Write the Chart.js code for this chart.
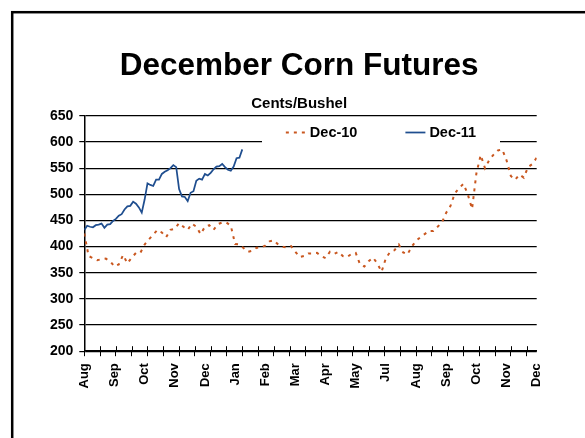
<!DOCTYPE html>
<html lang="en">
<head>
<meta charset="UTF-8">
<title>December Corn Futures</title>
<script src="https://cdn.jsdelivr.net/npm/chart.js"></script>
<style>
  html, body { margin: 0; padding: 0; background: #fff; }
  #wrap { width: 585px; height: 438px; }
</style>
</head>
<body>
<div id="wrap"><canvas id="cornChart" width="585" height="438"></canvas></div>
<script>
// x runs in trading days from early August; a month label every 21 days, a tick mark every 11
const monthLabels = ['Aug', 'Sep', 'Oct', 'Nov', 'Dec', 'Jan', 'Feb', 'Mar', 'Apr', 'May', 'Jul', 'Aug', 'Sep', 'Oct', 'Nov', 'Dec'];
const yTicks = [200, 250, 300, 350, 400, 450, 500, 550, 600, 650];
const lastDay = 315;
const labelEvery = 21;
const tickEvery = 11;

// Dec-10 contract, cents/bushel, every 3rd trading day
const dec10Step = 3;
const dec10 = [
  425, 382, 378, 374, 376, 377, 372, 362, 366, 384,
  368, 379, 388, 388, 404, 414, 423, 432, 427, 418,
  432, 434, 445, 438, 432, 444, 438, 424, 438, 441,
  432, 443, 446, 446, 440, 405, 404, 397, 390, 392,
  398, 398, 402, 410, 412, 404, 400, 398, 401, 390,
  380, 382, 387, 387, 388, 382, 378, 390, 386, 390,
  382, 380, 386, 388, 366, 362, 372, 379, 368, 352,
  378, 390, 393, 404, 389, 385, 400, 411, 418, 424,
  430, 430, 438, 446, 465, 478, 502, 512, 520, 500,
  472, 540, 575, 550, 566, 576, 584, 586, 565, 535,
  528, 538, 532, 552, 558, 570
];

// Dec-11 contract, cents/bushel, every 2nd trading day
const dec11Step = 2;
const dec11 = [
  432, 440, 438, 437, 441, 442, 444, 436, 442, 443,
  449, 453, 459, 462, 471, 477, 478, 486, 482, 475,
  465, 490, 521, 518, 516, 528, 528, 539, 543, 546,
  550, 556, 552, 510, 496, 495, 487, 503, 506, 526,
  530, 528, 539, 536, 541, 548, 553, 554, 558, 552,
  547, 545, 553, 569, 570, 586
];

const fontFamily = "'Liberation Sans', Arial, Helvetica, sans-serif";
Chart.defaults.font.family = fontFamily;
Chart.defaults.color = '#000';

// white page with the black frame
const framePlugin = {
  id: 'frame',
  beforeDraw(chart) {
    const ctx = chart.ctx;
    ctx.save();
    ctx.fillStyle = '#fff';
    ctx.fillRect(0, 0, chart.width, chart.height);
    ctx.strokeStyle = '#000';
    ctx.lineWidth = 2.5;
    ctx.strokeRect(12.2, 12.2, chart.width + 20, chart.height + 20);
    ctx.restore();
  }
};

// legend sitting inside the plot, on a white patch over the gridline
const insetLegend = {
  id: 'insetLegend',
  beforeDatasetsDraw(chart, args, opts) {
    const ctx = chart.ctx;
    ctx.save();
    ctx.fillStyle = '#fff';
    ctx.fillRect(opts.box[0], opts.box[1], opts.box[2], opts.box[3]);
    ctx.restore();
  },
  afterDatasetsDraw(chart, args, opts) {
    const ctx = chart.ctx;
    ctx.save();
    ctx.font = 'bold ' + opts.fontSize + 'px ' + fontFamily;
    ctx.textBaseline = 'middle';
    const items = chart.data.datasets.map(ds => ({
      ds: ds,
      w: opts.sample + opts.gap + ctx.measureText(ds.label).width
    }));
    const total = items.reduce((s, it) => s + it.w, 0) + opts.spacing * (items.length - 1);
    let x = opts.centerX - total / 2;
    const y = opts.centerY;
    items.forEach(it => {
      ctx.strokeStyle = it.ds.borderColor;
      ctx.lineWidth = it.ds.borderWidth;
      ctx.setLineDash(it.ds.borderDash || []);
      ctx.beginPath();
      ctx.moveTo(x, y);
      ctx.lineTo(x + opts.sample, y);
      ctx.stroke();
      ctx.setLineDash([]);
      ctx.fillStyle = '#000';
      ctx.fillText(it.ds.label, x + opts.sample + opts.gap, y);
      x += it.w + opts.spacing;
    });
    ctx.restore();
  }
};

// x tick marks cross the axis: the library draws the outer half, this adds the inner half
const crossTicks = {
  id: 'crossTicks',
  afterDatasetsDraw(chart) {
    const scale = chart.scales.x;
    const bottom = chart.chartArea.bottom;
    const ctx = chart.ctx;
    ctx.save();
    ctx.strokeStyle = '#000';
    ctx.lineWidth = 1;
    scale.ticks.forEach(t => {
      const px = Math.round(scale.getPixelForValue(t.value)) + 0.5;
      ctx.beginPath();
      ctx.moveTo(px, bottom - 5);
      ctx.lineTo(px, bottom);
      ctx.stroke();
    });
    ctx.restore();
  }
};

const everyN = (n) => {
  const out = [];
  for (let v = 0; v <= lastDay; v += n) out.push({ value: v });
  return out;
};

const ctx = document.getElementById('cornChart');
new Chart(ctx, {
  type: 'line',
  data: {
    datasets: [
      {
        label: 'Dec-10',
        data: dec10.map((v, i) => ({ x: i * dec10Step, y: v })),
        borderColor: '#C9571F',
        borderWidth: 2,
        borderDash: [3, 5],
        pointRadius: 0,
        tension: 0
      },
      {
        label: 'Dec-11',
        data: dec11.map((v, i) => ({ x: i * dec11Step, y: v })),
        borderColor: '#1F4E8F',
        borderWidth: 1.75,
        pointRadius: 0,
        tension: 0
      }
    ]
  },
  options: {
    responsive: false,
    animation: false,
    events: [],
    layout: { padding: { left: 49.3, right: 36, top: 0, bottom: 36.8 } },
    plugins: {
      legend: { display: false },
      tooltip: { enabled: false },
      title: {
        display: true,
        text: 'December Corn Futures',
        font: { size: 31.5, weight: 'bold', lineHeight: 1.2 },
        color: '#000',
        padding: { top: 47.3, bottom: 0 }
      },
      subtitle: {
        display: true,
        text: 'Cents/Bushel',
        font: { size: 15, weight: 'bold', lineHeight: 1.2 },
        color: '#000',
        padding: { top: 9.9, bottom: 2.9 }
      },
      insetLegend: {
        box: [262, 123, 238, 23],
        centerX: 381,
        centerY: 132.5,
        fontSize: 14.5,
        sample: 20,
        gap: 4,
        spacing: 48
      }
    },
    scales: {
      x: {
        type: 'linear',
        position: 'bottom',
        weight: 0,
        min: 0,
        max: lastDay,
        afterBuildTicks: (axis) => { axis.ticks = everyN(tickEvery); },
        afterFit: (axis) => { axis.height = 5; },
        ticks: { display: false },
        grid: { drawOnChartArea: false, tickLength: 5, color: '#000', lineWidth: 1 },
        border: { color: '#000', width: 1.5 }
      },
      xm: {
        type: 'linear',
        position: 'bottom',
        weight: 1,
        min: 0,
        max: lastDay,
        afterBuildTicks: (axis) => { axis.ticks = everyN(labelEvery); },
        afterFit: (axis) => { axis.height = 45; },
        ticks: {
          autoSkip: false,
          minRotation: 90,
          maxRotation: 90,
          padding: 7,
          color: '#000',
          font: { size: 13, weight: 'bold' },
          callback: (value, index) => monthLabels[index]
        },
        grid: { display: false, drawTicks: false },
        border: { display: false }
      },
      y: {
        min: 200,
        max: 650,
        afterBuildTicks: (axis) => { axis.ticks = yTicks.map(v => ({ value: v })); },
        afterFit: (axis) => { axis.width = 35; },
        ticks: {
          padding: 6,
          color: '#000',
          font: { size: 14, weight: 'bold' }
        },
        grid: { color: '#000', lineWidth: 1.2, tickLength: 5 },
        border: { color: '#000', width: 1.5 }
      },
      // empty strip on the right so the titles centre over the whole frame
      yr: {
        position: 'right',
        min: 200,
        max: 650,
        afterFit: (axis) => { axis.width = 12.3; },
        ticks: { display: false },
        grid: { display: false, drawTicks: false },
        border: { display: false }
      }
    }
  },
  plugins: [framePlugin, insetLegend, crossTicks]
});
</script>
</body>
</html>
